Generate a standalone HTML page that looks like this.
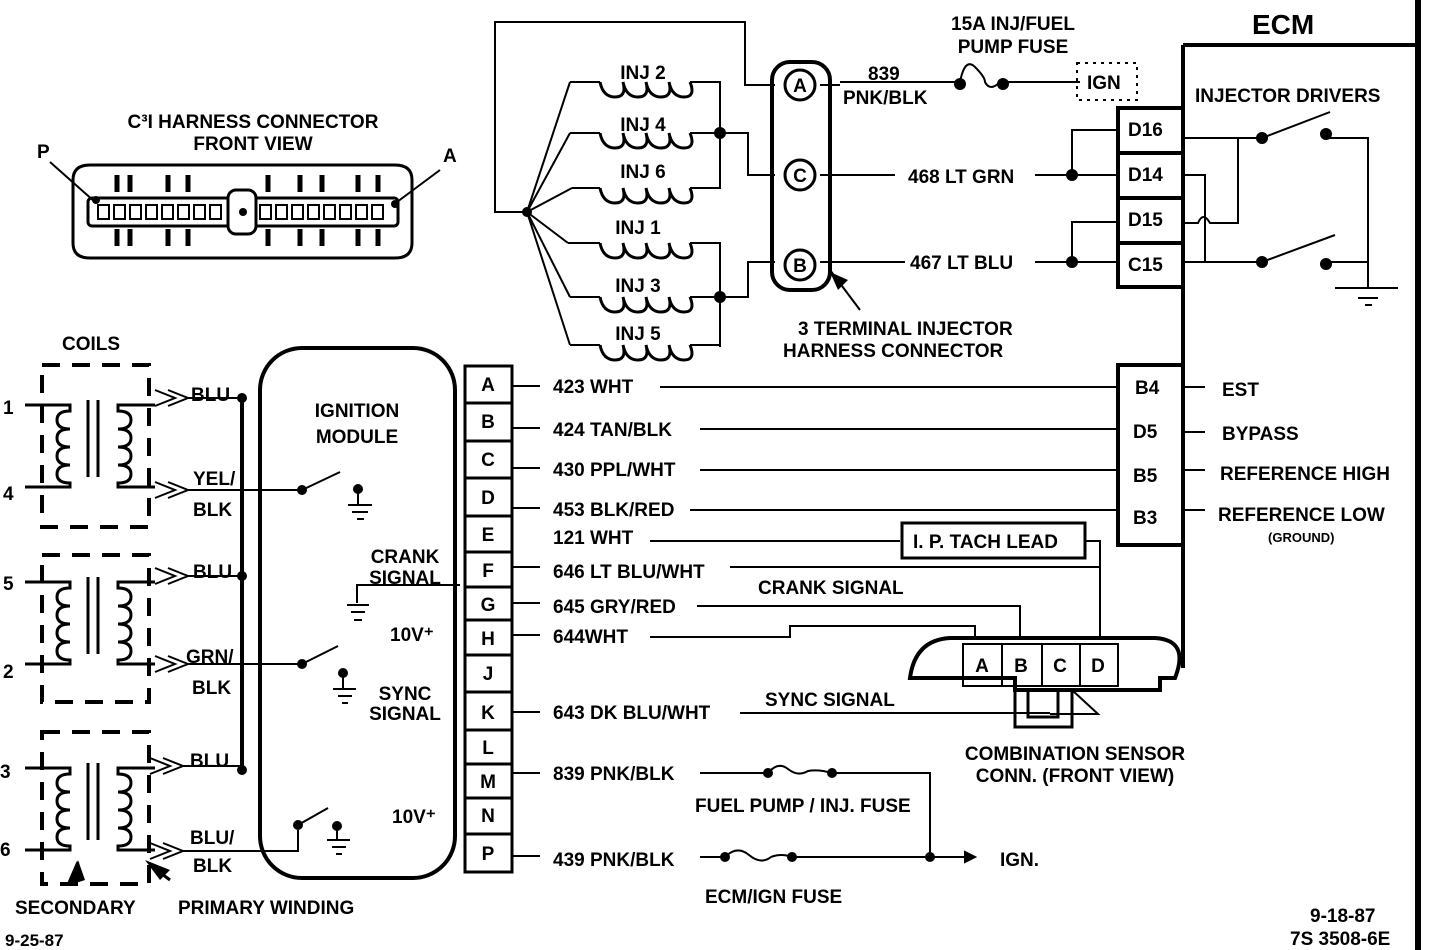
<!DOCTYPE html>
<html><head><meta charset="utf-8"><style>
html,body{margin:0;padding:0;background:#fff;}
svg{display:block;}
text{font-family:"Liberation Sans",sans-serif;font-weight:bold;font-size:19px;fill:#000;}
</style></head><body>
<svg width="1440" height="950" viewBox="0 0 1440 950" xmlns="http://www.w3.org/2000/svg">
<defs>
<g id="coil" stroke="#000" stroke-width="3" fill="none">
<path d="M25 0H70V6 q-13 0 -13 9 q0 9 13 9 q-13 0 -13 9 q0 9 13 9 q-13 0 -13 9 q0 9 13 9 q-13 0 -13 9 q0 9 13 9V82H25"/>
<path d="M88 -5V72M98 -5V72"/>
<path d="M155 0H118V6 q13 0 13 9 q0 9 -13 9 q13 0 13 9 q0 9 -13 9 q13 0 13 9 q0 9 -13 9 q13 0 13 9 q0 9 -13 9V82H155"/>
</g>
</defs>
<g stroke="#000" stroke-width="3" fill="none">
<!-- C3I connector -->
<path d="M90 165 H395 Q412 165 412 180 V243 Q412 258 395 258 H90 Q73 258 73 243 V180 Q73 165 90 165 Z"/>
<rect x="88" y="198" width="310" height="28" rx="4"/>
<rect x="228" y="190" width="28" height="44" rx="8" fill="#fff"/>
<g stroke-width="5">
<path d="M117 175V192M130 175V192M168 175V192M188 175V192M268 175V192M300 175V192M322 175V192M358 175V192M378 175V192"/>
<path d="M117 229V246M130 229V246M168 229V246M188 229V246M268 229V246M300 229V246M322 229V246M358 229V246M378 229V246"/>
</g>
<g stroke-width="2">
<rect x="98" y="205" width="11" height="14"/><rect x="114" y="205" width="11" height="14"/><rect x="130" y="205" width="11" height="14"/><rect x="146" y="205" width="11" height="14"/><rect x="162" y="205" width="11" height="14"/><rect x="178" y="205" width="11" height="14"/><rect x="194" y="205" width="11" height="14"/><rect x="210" y="205" width="11" height="14"/>
<rect x="260" y="205" width="11" height="14"/><rect x="276" y="205" width="11" height="14"/><rect x="292" y="205" width="11" height="14"/><rect x="308" y="205" width="11" height="14"/><rect x="324" y="205" width="11" height="14"/><rect x="340" y="205" width="11" height="14"/><rect x="356" y="205" width="11" height="14"/><rect x="372" y="205" width="11" height="14"/>
<path d="M50 162L95 202M440 170L393 205"/>
</g>
<!-- coils dashed boxes -->
<g stroke-dasharray="18 12" stroke-width="4">
<rect x="42" y="365" width="107" height="162"/>
<rect x="42" y="555" width="107" height="147"/>
<rect x="42" y="732" width="107" height="152"/>
</g>
</g>
<use href="#coil" transform="translate(0,405)"/>
<use href="#coil" transform="translate(0,582)"/>
<use href="#coil" transform="translate(0,768)"/>
<g stroke="#000" stroke-width="3" fill="none">
<g stroke-width="2">
<path d="M155 390l20 8-20 8M168 390l20 8-20 8"/>
<path d="M155 482l20 8-20 8M168 482l20 8-20 8"/>
<path d="M155 568l20 8-20 8M168 568l20 8-20 8"/>
<path d="M155 656l20 8-20 8M168 656l20 8-20 8"/>
<path d="M150 758l20 8-20 8M163 758l20 8-20 8"/>
<path d="M150 843l20 8-20 8M163 843l20 8-20 8"/>
<path d="M188 398H242M188 490H300M188 576H242M188 664H300M183 766H242M183 851H298V830"/>
</g>
<path d="M242 398V770" stroke-width="4"/>
<path d="M78 862L68 885M150 865L170 880" stroke-width="3"/>
<!-- ignition module -->
<rect x="260" y="348" width="195" height="530" rx="42" stroke-width="4"/>
<g stroke-width="2">
<path d="M302 490L340 472M302 664L338 646M298 825L328 808"/>
<path d="M358 490V505M348 505H372M352 512H368M357 519H364"/>
<path d="M343 674V689M333 689H356M338 696H352M342 703H348"/>
<path d="M337 827V840M327 840H350M332 847H346M336 854H342"/>
<path d="M357 603V585H460M347 605H369M351 612H365M354 620H362"/>
</g>
<!-- A-P column -->
<g stroke-width="3">
<rect x="465" y="366" width="47" height="37"/><rect x="465" y="403" width="47" height="38"/><rect x="465" y="441" width="47" height="37"/><rect x="465" y="478" width="47" height="38"/><rect x="465" y="516" width="47" height="36"/><rect x="465" y="552" width="47" height="35"/><rect x="465" y="587" width="47" height="33"/><rect x="465" y="620" width="47" height="35"/><rect x="465" y="655" width="47" height="37"/><rect x="465" y="692" width="47" height="38"/><rect x="465" y="730" width="47" height="34"/><rect x="465" y="764" width="47" height="34"/><rect x="465" y="798" width="47" height="36"/><rect x="465" y="834" width="47" height="38"/>
</g>
<g stroke-width="2">
<path d="M512 386H540M660 387H1118M512 428H540M700 429H1118M512 468H540M700 470H1118M512 508H540M690 510H1118"/>
<path d="M650 541H900M1085 541H1100V567"/>
<path d="M512 567H540M730 567H1100V640"/>
<path d="M512 603H540M697 606H1020V640"/>
<path d="M512 635H540M650 637H790V626H975V640"/>
<path d="M512 712H540M740 713H1050"/>
<path d="M512 773H540M700 773H768M832 773H930V856"/>
<path d="M512 856H540M700 857H725M792 857H975"/>
<path d="M768 773q10 -12 20 -4t20 2q10 -2 24 2M725 857q12 -12 24 -2t22 2q10 -4 21 0"/>
<path d="M975 857l-10 -5v10z" fill="#000"/>
</g>
<rect x="902" y="523" width="183" height="35" stroke-width="3"/>
<!-- combination sensor -->
<path d="M910 678 Q915 640 950 638 H1155 Q1190 640 1175 678 H1160 V690 H1015 V678 Z" stroke-width="4"/>
<rect x="963" y="644" width="155" height="42" stroke-width="2"/>
<path d="M1002 644V686M1042 644V686M1080 644V686" stroke-width="2"/>
<path d="M1015 690V727H1072V690M1028 690V717H1058V690" stroke-width="3"/>
<path d="M1072 690L1098 714H1050" stroke-width="2"/>
<!-- ECM -->
<path d="M1183 45V668M1183 45H1420" stroke-width="4"/>
<path d="M1418 0V950" stroke-width="6"/>
<rect x="1118" y="108" width="65" height="179" stroke-width="4"/>
<path d="M1118 153H1183M1118 198H1183M1118 243H1183" stroke-width="4"/>
<rect x="1118" y="365" width="65" height="180" stroke-width="4"/>
<g stroke-width="2">
<path d="M1183 387H1205M1183 432H1205M1183 470H1205M1183 510H1205"/>
<path d="M1183 138H1262L1330 112M1326 138H1368V288M1183 175H1205V262M1183 223H1198q5 -12 12 0h28V138M1183 262H1262L1335 235M1326 262H1368M1335 288H1398M1358 298H1378M1365 305H1372"/>
<path d="M1072 175H1118M1072 175V130H1118M1072 262H1118M1072 262V222H1118M1035 175H1072M1035 262H1072"/>
<path d="M840 82H960M1000 82H1080M960 82q5 -25 15 -15t10 15q5 10 15 0"/>
<path d="M1077 63H1137V100H1077Z" stroke-dasharray="3 5"/>
<path d="M527 212H495V22H745V85H775M527 212L570 82M527 212L570 133M527 212L572 188M527 212L568 243M527 212L570 297M527 212L570 345"/>
<path d="M570 82H600M690 82H720V183M570 133H600M690 133H748V175H775M572 188H600M690 188H720V135M568 243H600M690 243H720V347M570 297H600M690 297H748V262H775M570 345H600M690 345H720"/>
<path d="M600 82q3 15 15 15t8 -15q3 15 15 15t8 -15q3 15 15 15t8 -15q3 15 15 15t6 -15M600 133q3 15 15 15t8 -15q3 15 15 15t8 -15q3 15 15 15t8 -15q3 15 15 15t6 -15M600 188q3 15 15 15t8 -15q3 15 15 15t8 -15q3 15 15 15t8 -15q3 15 15 15t6 -15M600 243q3 15 15 15t8 -15q3 15 15 15t8 -15q3 15 15 15t8 -15q3 15 15 15t6 -15M600 297q3 15 15 15t8 -15q3 15 15 15t8 -15q3 15 15 15t8 -15q3 15 15 15t6 -15M600 345q3 15 15 15t8 -15q3 15 15 15t8 -15q3 15 15 15t8 -15q3 15 15 15t6 -15" stroke-width="3"/>
<path d="M820 85H840M820 175H895M820 262H905"/>
<path d="M860 310L830 270"/>
</g>
<rect x="772" y="62" width="58" height="228" rx="18" stroke-width="4"/>
<circle cx="800" cy="85" r="15" stroke-width="3"/>
<circle cx="800" cy="175" r="15" stroke-width="3"/>
<circle cx="800" cy="265" r="15" stroke-width="3"/>
</g>
<g fill="#000">
<circle cx="242" cy="398" r="5"/><circle cx="242" cy="576" r="5"/><circle cx="242" cy="770" r="5"/>
<circle cx="302" cy="490" r="5"/><circle cx="302" cy="664" r="5"/><circle cx="298" cy="825" r="5"/>
<circle cx="358" cy="489" r="5"/><circle cx="343" cy="673" r="5"/><circle cx="337" cy="826" r="5"/>
<circle cx="768" cy="773" r="5"/><circle cx="832" cy="773" r="5"/><circle cx="725" cy="857" r="5"/><circle cx="792" cy="857" r="5"/><circle cx="930" cy="857" r="5"/>
<circle cx="527" cy="212" r="5"/><circle cx="720" cy="133" r="6"/><circle cx="720" cy="297" r="6"/>
<circle cx="960" cy="84" r="6"/><circle cx="1003" cy="84" r="6"/>
<circle cx="1072" cy="175" r="6"/><circle cx="1072" cy="262" r="6"/>
<circle cx="1262" cy="138" r="6"/><circle cx="1326" cy="134" r="6"/><circle cx="1262" cy="262" r="6"/><circle cx="1326" cy="264" r="6"/>
<circle cx="96" cy="200" r="4"/><circle cx="243" cy="212" r="4"/><circle cx="395" cy="204" r="4"/>
<path d="M70 885L78 860L85 880Z"/><path d="M145 860L170 870L160 880Z"/><path d="M830 272L838 290L848 280Z"/>
</g>
<text x="253" y="128" text-anchor="middle">C³I HARNESS CONNECTOR</text>
<text x="253" y="150" text-anchor="middle">FRONT  VIEW</text>
<text x="37" y="158">P</text><text x="443" y="162">A</text>
<text x="62" y="350">COILS</text>
<text x="3" y="414">1</text><text x="3" y="500">4</text><text x="3" y="590">5</text><text x="3" y="678">2</text><text x="0" y="778">3</text><text x="0" y="856">6</text>
<text x="191" y="401">BLU</text><text x="193" y="485">YEL/</text><text x="193" y="516">BLK</text>
<text x="193" y="578">BLU</text><text x="186" y="663">GRN/</text><text x="192" y="694">BLK</text>
<text x="190" y="767">BLU</text><text x="190" y="844">BLU/</text><text x="193" y="872">BLK</text>
<text x="15" y="914">SECONDARY</text><text x="178" y="914">PRIMARY WINDING</text>
<text x="5" y="946" style="font-size:17px">9-25-87</text>
<text x="357" y="417" text-anchor="middle">IGNITION</text><text x="357" y="443" text-anchor="middle">MODULE</text>
<text x="405" y="563" text-anchor="middle">CRANK</text><text x="405" y="584" text-anchor="middle">SIGNAL</text>
<text x="390" y="641">10V⁺</text>
<text x="405" y="700" text-anchor="middle">SYNC</text><text x="405" y="720" text-anchor="middle">SIGNAL</text>
<text x="392" y="823">10V⁺</text>
<g text-anchor="middle"><text x="488" y="391">A</text><text x="488" y="428">B</text><text x="488" y="466">C</text><text x="488" y="504">D</text><text x="488" y="541">E</text><text x="488" y="577">F</text><text x="488" y="611">G</text><text x="488" y="645">H</text><text x="488" y="680">J</text><text x="488" y="719">K</text><text x="488" y="754">L</text><text x="488" y="788">M</text><text x="488" y="822">N</text><text x="488" y="860">P</text></g>
<text x="553" y="393">423 WHT</text><text x="553" y="436">424 TAN/BLK</text><text x="553" y="476">430 PPL/WHT</text><text x="553" y="516">453 BLK/RED</text><text x="553" y="544">121 WHT</text><text x="553" y="578">646 LT BLU/WHT</text><text x="553" y="613">645 GRY/RED</text><text x="553" y="643">644WHT</text><text x="553" y="719">643 DK BLU/WHT</text><text x="553" y="780">839 PNK/BLK</text><text x="553" y="866">439 PNK/BLK</text>
<text x="758" y="594">CRANK SIGNAL</text><text x="765" y="706">SYNC SIGNAL</text>
<text x="913" y="548">I. P. TACH LEAD</text>
<text x="982" y="672" text-anchor="middle">A</text><text x="1021" y="672" text-anchor="middle">B</text><text x="1060" y="672" text-anchor="middle">C</text><text x="1098" y="672" text-anchor="middle">D</text>
<text x="1075" y="760" text-anchor="middle">COMBINATION SENSOR</text><text x="1075" y="782" text-anchor="middle">CONN. (FRONT VIEW)</text>
<text x="695" y="812">FUEL PUMP / INJ. FUSE</text><text x="705" y="903">ECM/IGN FUSE</text><text x="1000" y="866">IGN.</text>
<text x="1310" y="922">9-18-87</text><text x="1290" y="945">7S 3508-6E</text>
<text x="1135" y="394">B4</text><text x="1133" y="438">D5</text><text x="1133" y="482">B5</text><text x="1133" y="524">B3</text>
<text x="1222" y="396">EST</text><text x="1222" y="440">BYPASS</text><text x="1220" y="480">REFERENCE HIGH</text><text x="1218" y="521">REFERENCE LOW</text><text x="1268" y="542" style="font-size:13px">(GROUND)</text>
<text x="1128" y="136">D16</text><text x="1128" y="181">D14</text><text x="1128" y="226">D15</text><text x="1128" y="271">C15</text>
<text x="1195" y="102">INJECTOR DRIVERS</text>
<text x="1252" y="34" style="font-size:28px">ECM</text>
<text x="1013" y="30" text-anchor="middle">15A INJ/FUEL</text><text x="1013" y="53" text-anchor="middle">PUMP FUSE</text>
<text x="1087" y="89">IGN</text>
<text x="868" y="80">839</text><text x="843" y="104">PNK/BLK</text>
<text x="908" y="183">468 LT GRN</text><text x="910" y="269">467 LT BLU</text>
<text x="643" y="79" text-anchor="middle">INJ 2</text><text x="643" y="131" text-anchor="middle">INJ 4</text><text x="643" y="178" text-anchor="middle">INJ 6</text><text x="638" y="234" text-anchor="middle">INJ 1</text><text x="638" y="292" text-anchor="middle">INJ 3</text><text x="638" y="340" text-anchor="middle">INJ 5</text>
<text x="798" y="335">3 TERMINAL INJECTOR</text><text x="783" y="357">HARNESS CONNECTOR</text>
<text x="800" y="92" text-anchor="middle">A</text><text x="800" y="182" text-anchor="middle">C</text><text x="800" y="272" text-anchor="middle">B</text>
</svg>
</body></html>
